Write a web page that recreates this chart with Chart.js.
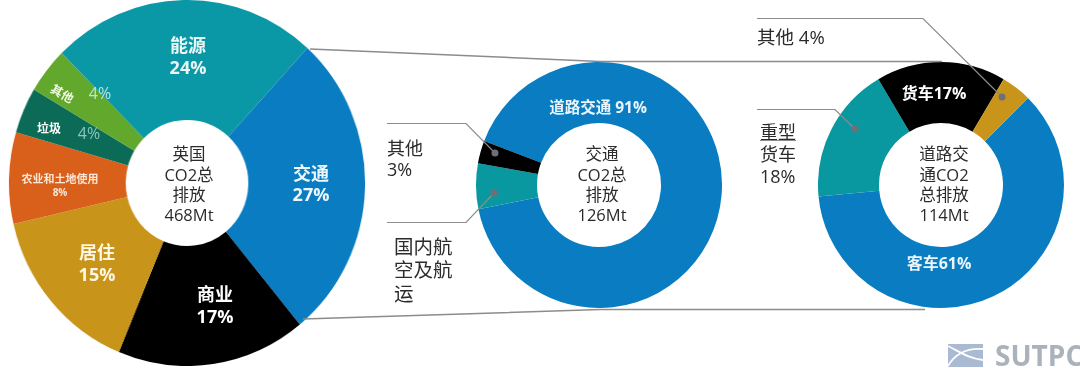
<!DOCTYPE html>
<html>
<head>
<meta charset="utf-8">
<script src="https://cdn.jsdelivr.net/npm/chart.js@4/dist/chart.umd.min.js"></script>
<style>
html,body{margin:0;padding:0;background:#fff;}
#stage{position:relative;width:1080px;height:368px;overflow:hidden;font-family:"Open Sans","Noto Sans CJK SC",sans-serif;}
#stage canvas{position:absolute;}
#stage svg{position:absolute;left:0;top:0;}
.t{position:absolute;white-space:nowrap;line-height:1;}
</style>
</head>
<body>
<div id="stage">
	<canvas id="ukPie" style="left:4px;top:0px;width:366px;height:366px;transform:scaleX(0.973)"></canvas>
	<canvas id="transportPie" style="left:476px;top:62px;width:246px;height:246px"></canvas>
	<canvas id="roadPie" style="left:818px;top:62px;width:246px;height:246px"></canvas>
	<svg id="lines" width="1080" height="368"></svg>
</div>
<script>
// 英国总排放
var ukCategories=["交通","商业","居住","农业和土地使用","垃圾","其他","能源"];
var ukValues=[27,17,15,8,4,4,24];
var ukColors=["#0a7dc2","#000000","#c8941a","#d9601a","#0b6b57","#62a82c","#0a98a6"];
// 交通排放
var transportCategories=["道路交通","国内航空及航运","其他"];
var transportValues=[91,6,3];
var transportColors=["#0a7dc2","#0a98a0","#000000"];
// 道路交通排放
var roadCategories=["客车","重型货车","货车","其他"];
var roadValues=[61,18,17,4];
var roadColors=["#0a7dc2","#0a98a0","#000000","#c8941a"];

function makePie(id,labels,values,colors,rotation,cutout){
	new Chart(document.getElementById(id).getContext("2d"),{
		type:'doughnut',
		data:{
			labels:labels,
			datasets:[{data:values,backgroundColor:colors,borderWidth:0,hoverOffset:0}]
		},
		options:{
			responsive:false,
			animation:false,
			rotation:rotation,
			cutout:cutout,
			layout:{padding:0},
			plugins:{legend:{display:false},tooltip:{enabled:false}}
		}
	});
}
Chart.defaults.devicePixelRatio=1;
["ukPie","transportPie","roadPie"].forEach(function(id){
	var c=document.getElementById(id);
	c.width=parseInt(c.style.width);
	c.height=parseInt(c.style.height);
});
makePie("ukPie",ukCategories,ukValues,ukColors,42.5,63);
makePie("transportPie",transportCategories,transportValues,transportColors,291,62);
makePie("roadPie",roadCategories,roadValues,roadColors,45,62);

// 文字, x,y 是文字中心 (left为true时x是左边)
function txt(s,x,y,size,color,bold,left,rot){
	var d=document.createElement("div");
	d.className="t";
	d.textContent=s;
	d.style.fontSize=size+"px";
	d.style.color=color;
	if(bold)d.style.fontWeight="bold";
	d.style.left=x+"px";
	d.style.top=y+"px";
	d.style.transform=(left?"translate(0,-50%)":"translate(-50%,-50%)")+(rot?" rotate("+rot+"deg)":"");
	document.getElementById("stage").appendChild(d);
}
var dark="#2b2b2b";
// 饼图内标签
txt("能源",188,45,18,"#e8f6f6",true);
txt("24%",188,67,18,"#e8f6f6",true);
txt("交通",311,173,18,"#eef7fc",true);
txt("27%",311,194,18,"#eef7fc",true);
txt("商业",215,294,18,"#ffffff",true);
txt("17%",215,316,18,"#ffffff",true);
txt("居住",97,252,18,"#fdf6e3",true);
txt("15%",97,274,18,"#fdf6e3",true);
txt("农业和土地使用",60,178,11,"#fbe6d8",true);
txt("8%",60,192,10,"#fbe6d8",true);
txt("垃圾",49,129,12,"#ffffff",true);
txt("4%",89,133,16,"#8cc4c0",false);
txt("其他",62,94,12,"#f4fae8",true,false,30);
txt("4%",100,93,16,"#b9e6d8",false);
// 中心文字
var ukCenter=["英国","CO2总","排放","468Mt"];
var transportCenter=["交通","CO2总","排放","126Mt"];
var roadCenter=["道路交","通CO2","总排放","114Mt"];
var centerY=[154,175,195,215];
ukCenter.forEach(function(s,i){txt(s,189,centerY[i],16.5,dark);});
transportCenter.forEach(function(s,i){txt(s,602,centerY[i],16.5,dark);});
roadCenter.forEach(function(s,i){txt(s,944,centerY[i],16.5,dark);});
// 外部标签
txt("道路交通 91%",598,108,15.5,"#eaf5fb",true);
txt("其他",387,148,18,dark,false,true);
txt("3%",387,169,18,dark,false,true);
txt("国内航",394,247,19.5,dark,false,true);
txt("空及航",394,270,19.5,dark,false,true);
txt("运",394,294,19.5,dark,false,true);
txt("其他 4%",757,37,18.5,dark,false,true);
txt("货车17%",934,93,16,"#ffffff",true);
txt("重型",760,132,18,dark,false,true);
txt("货车",760,154,18,dark,false,true);
txt("18%",760,176,18,dark,false,true);
txt("客车61%",939,263,16,"#eaf5fb",true);
txt("SUTPC",995,355,28,"#aab2bb",true,true);

// 连接线和引线
var svg=document.getElementById("lines");
var ns="http://www.w3.org/2000/svg";
function add(tag,attrs){
	var e=document.createElementNS(ns,tag);
	for(var k in attrs)e.setAttribute(k,attrs[k]);
	svg.appendChild(e);
}
function line(p,w){add("polyline",{points:p,fill:"none",stroke:"#8c8c8c","stroke-width":w});}
line("310,49 600,61.5 942,61.5",1.5);
line("303,319 600,309.5 925,309.5",1.5);
line("387,123.5 466,123.5 495,153",1.2);
line("387,222.5 466,222.5 494,193",1.2);
line("757,18.5 923,18.5 1002,97",1.2);
line("757,109.5 835,109.5 855,129",1.2);
line("760,140.5 796,140.5",1);
[[495,153],[494,193],[1002,97],[855,129]].forEach(function(p){
	add("circle",{cx:p[0],cy:p[1],r:3.5,fill:"#6f6f78"});
});
// SUTPC 图标
add("rect",{x:948,y:344,width:35,height:23,fill:"#a9bad2"});
add("path",{d:"M948 346 C960 352 968 358 983 360 M948 366 C956 352 968 348 983 349",fill:"none",stroke:"#ffffff","stroke-width":1.8});
</script>
</body>
</html>
